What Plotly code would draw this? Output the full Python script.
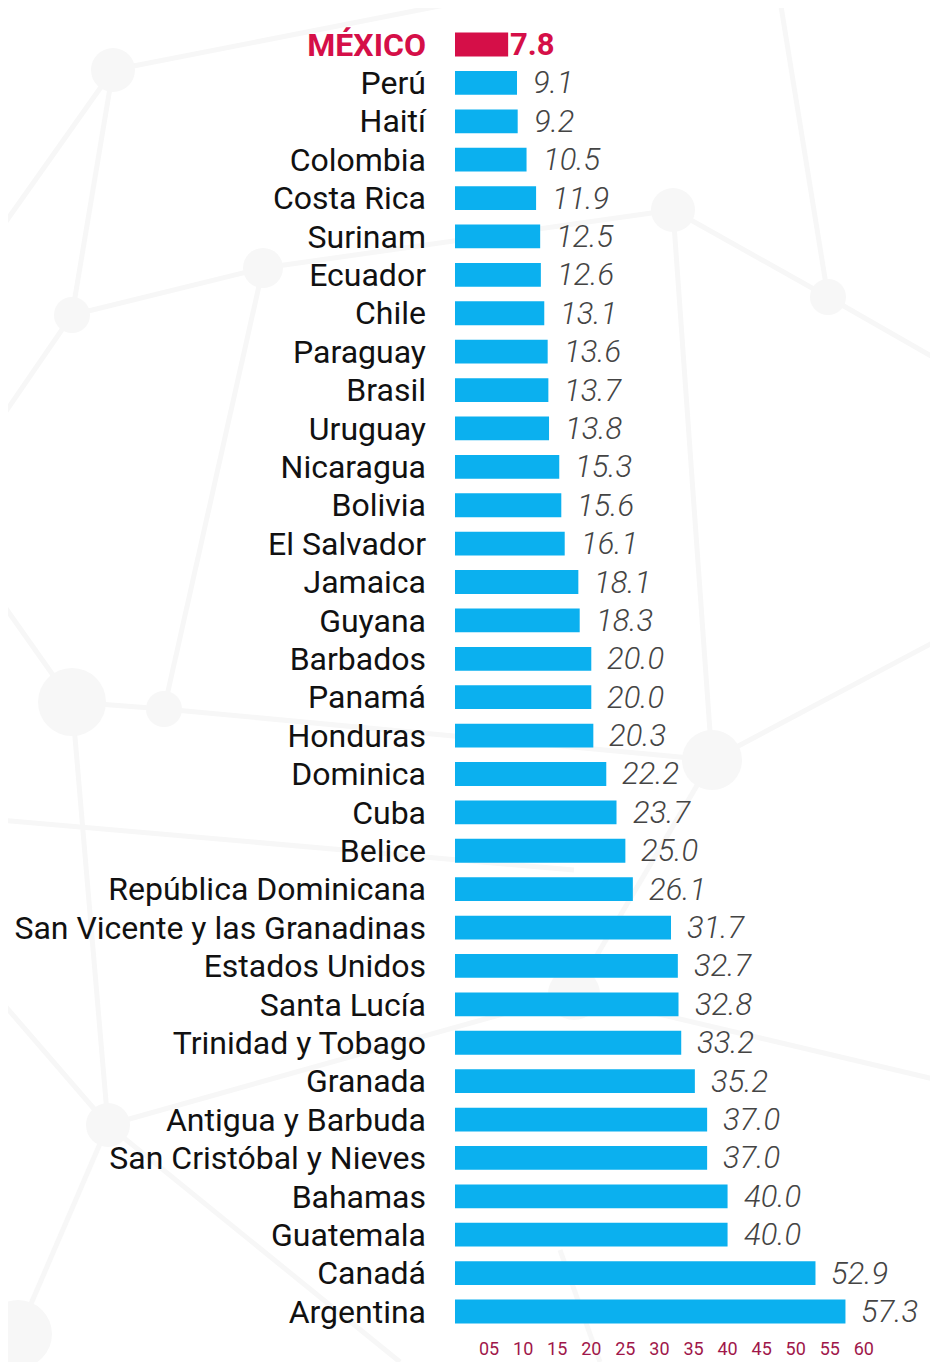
import plotly.graph_objects as go

countries = ["MÉXICO", "Perú", "Haití", "Colombia", "Costa Rica", "Surinam", "Ecuador", "Chile",
             "Paraguay", "Brasil", "Uruguay", "Nicaragua", "Bolivia", "El Salvador", "Jamaica",
             "Guyana", "Barbados", "Panamá", "Honduras", "Dominica", "Cuba", "Belice",
             "República Dominicana", "San Vicente y las Granadinas", "Estados Unidos", "Santa Lucía",
             "Trinidad y Tobago", "Granada", "Antigua y Barbuda", "San Cristóbal y Nieves",
             "Bahamas", "Guatemala", "Canadá", "Argentina"]
values = [7.8, 9.1, 9.2, 10.5, 11.9, 12.5, 12.6, 13.1, 13.6, 13.7, 13.8, 15.3, 15.6, 16.1, 18.1,
          18.3, 20.0, 20.0, 20.3, 22.2, 23.7, 25.0, 26.1, 31.7, 32.7, 32.8, 33.2, 35.2, 37.0, 37.0,
          40.0, 40.0, 52.9, 57.3]
tick_vals = [5, 10, 15, 20, 25, 30, 35, 40, 45, 50, 55, 60]
tick_text = ["05", "10", "15", "20", "25", "30", "35", "40", "45", "50", "55", "60"]

HIGHLIGHT = "MÉXICO"
RED = "#D50F48"
BLUE = "#0BB0EF"

W, H = 930, 1354
ML, MR, MT, MB = 447, 6, 16, 30
PW, PH = W - ML - MR, H - MT - MB

colors = [RED if c == HIGHLIGHT else BLUE for c in countries]
ylabels = [f"<b><span style='color:{RED}'>{c}</span></b>" if c == HIGHLIGHT else c for c in countries]

fig = go.Figure(go.Bar(
    x=values, y=list(range(len(countries))), orientation="h",
    marker=dict(color=colors, line=dict(width=0)),
    hoverinfo="skip",
))

annotations = []
for i, (c, v) in enumerate(zip(countries, values)):
    if c == HIGHLIGHT:
        annotations.append(dict(x=v, y=i, xref="x", yref="y", text=f"<b>{v:.1f}</b>",
                                showarrow=False, xanchor="left", yanchor="middle", xshift=0,
                                font=dict(family="Roboto", size=31, color=RED)))
    else:
        annotations.append(dict(x=v, y=i, xref="x", yref="y", text=f"{v:.1f}",
                                showarrow=False, xanchor="left", yanchor="middle", xshift=14,
                                font=dict(family="Roboto Light, Roboto", size=31, color="#444444",
                                          style="italic", weight=300)))

# faint decorative network in the background (page pixel coordinates)
def px(X):
    return (X - 8 - ML) / PW

def py(Y):
    return 1 - (Y - 8 - MT) / PH

bg_lines = [((113, 70), (72, 315)), ((113, 70), (0, 230)), ((113, 70), (470, 0)),
            ((72, 315), (263, 268)), ((263, 268), (673, 210)), ((673, 210), (828, 297)),
            ((828, 297), (938, 360)), ((828, 297), (780, 0)), ((72, 315), (0, 420)),
            ((263, 268), (164, 709)), ((72, 702), (164, 709)), ((164, 709), (712, 760)),
            ((712, 760), (938, 640)), ((72, 702), (0, 600)), ((72, 702), (108, 1125)),
            ((108, 1125), (0, 1000)), ((108, 1125), (400, 1362)), ((574, 994), (712, 760)),
            ((574, 994), (108, 1125)), ((574, 994), (938, 1080)), ((673, 210), (712, 760)),
            ((560, 1250), (600, 1362)), ((18, 1334), (108, 1125)), ((0, 820), (574, 870))]
bg_nodes = [(113, 70, 22), (72, 315, 18), (263, 268, 20), (673, 210, 22), (828, 297, 18),
            (72, 702, 34), (164, 709, 18), (712, 760, 30), (108, 1125, 22), (574, 994, 26),
            (18, 1334, 34)]

shapes = []
for (x0, y0), (x1, y1) in bg_lines:
    shapes.append(dict(type="line", xref="paper", yref="paper", layer="below",
                       x0=px(x0), y0=py(y0), x1=px(x1), y1=py(y1),
                       line=dict(color="#F7F7F7", width=5)))
for (cx, cy, r) in bg_nodes:
    shapes.append(dict(type="circle", xref="paper", yref="paper", layer="below",
                       x0=px(cx - r), x1=px(cx + r), y0=py(cy + r), y1=py(cy - r),
                       fillcolor="#F7F7F7", line=dict(width=0)))

fig.update_layout(
    width=W, height=H,
    margin=dict(l=ML, r=MR, t=MT, b=MB, autoexpand=False),
    paper_bgcolor="white", plot_bgcolor="rgba(0,0,0,0)",
    bargap=0.38,
    showlegend=False,
    annotations=annotations,
    shapes=shapes,
    xaxis=dict(range=[0, 70], tickvals=tick_vals, ticktext=tick_text, showgrid=False,
               zeroline=False, showline=False, ticks="", automargin=False,
               ticklabelstandoff=4,
               tickfont=dict(family="Roboto", size=18, color="#A0174A")),
    yaxis=dict(autorange="reversed", tickvals=list(range(len(countries))), ticktext=ylabels,
               showgrid=False, zeroline=False, showline=False, ticks="", automargin=False,
               ticklabelstandoff=28,
               tickfont=dict(family="Roboto", size=32, color="#111111")),
)

fig.write_html("out.html")
